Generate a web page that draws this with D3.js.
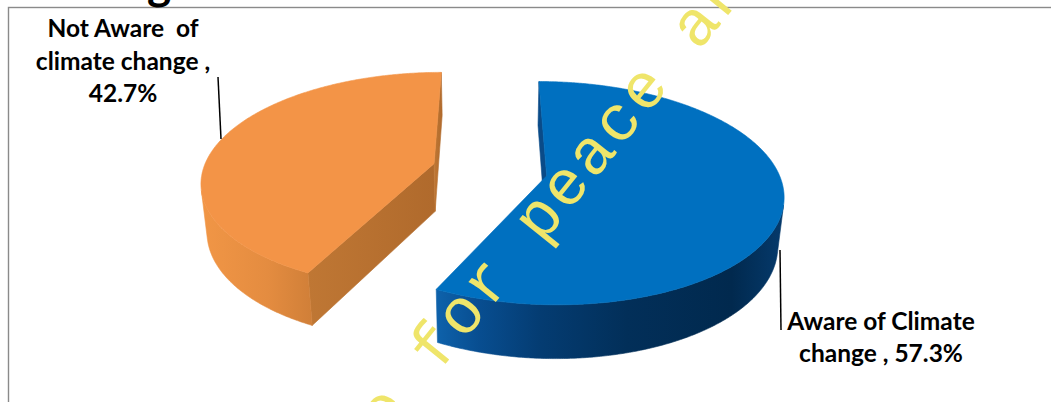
<!DOCTYPE html>
<html><head><meta charset="utf-8">
<script src="https://cdn.jsdelivr.net/npm/d3@7"></script>
<style>body{margin:0;background:#fff}svg{display:block}</style>
</head><body>
<svg id="chart" width="1051" height="402"></svg>
<script>
// ---- data ----
const categories = ["Aware of Climate change", "Not Aware  of climate change"];
const values = [57.3, 42.7];
const labelLines = [["Aware of Climate", "change , 57.3%"], ["Not Aware  of", "climate change ,", "42.7%"]];
const titleText = "Awareness of climate change";
const watermarkText = "centre for peace and development";

// ---- style / layout ----
const W = 1051, H = 402;
const topColors = ["#0070C0", "#F39447"];
const wallStops = [
  [[0, "#0e62ab"], [0.12, "#084e91"], [0.3, "#043c72"], [0.55, "#022f59"], [0.85, "#01294e"], [1, "#053a6c"]],
  [[0, "#f19646"], [0.6, "#e48c40"], [1, "#d07f38"]]
];
const cutColors = [["#0a4b88", "#0a4b88"], ["#bf7734", "#b06a2c"]];
const cam = {F: 1303.8, Dc: 5.7646, phi: 0.5185, px: 488.88, py: 217.69, Xoff: -0.0043};
const explode = 0.2504, thick = 0.2393;

const svg = d3.select("#chart");
const defs = svg.append("defs");

// chart area border
svg.append("rect").attr("x", 8.5).attr("y", 7.5).attr("width", W + 20).attr("height", H + 20)
  .attr("fill", "#fff").attr("stroke", "#8a8a8a").attr("stroke-width", 1.4);

// title (mostly cut off at the top edge)
const title = svg.append("text").attr("y", -1).attr("font-family", "Lato, sans-serif")
  .attr("font-weight", 700).attr("font-size", 46).attr("fill", "#000").text(titleText);
{
  const gi = titleText.indexOf("g");
  const node = title.node();
  const before = node.getSubStringLength(0, gi);
  const gw = node.getSubStringLength(gi, 1);
  title.attr("x", 159 - before - gw / 2);
}

// ---- 3D projection ----
const cph = Math.cos(cam.phi), sph = Math.sin(cam.phi);
const camPos = [cam.Xoff, cam.Dc * sph, cam.Dc * cph];
function project(X, Y, Z) {
  const u = X - cam.Xoff, v = Y * cph - Z * sph, w = cam.Dc - (Y * sph + Z * cph);
  return [cam.px + cam.F * u / w, cam.py - cam.F * v / w];
}
const pie = d3.pie().sort(null).value(d => d).startAngle(0).endAngle(2 * Math.PI);
const arcs = pie(values);

function sliceGeom(a) {
  const m = (a.startAngle + a.endAngle) / 2;
  const cx = explode * Math.sin(m), cz = -explode * Math.cos(m);
  const rim = (t, y) => project(cx + Math.sin(t), y, cz - Math.cos(t));
  const apex = y => project(cx, y, cz);
  const vis = (n, p) => n[0] * (camPos[0] - p[0]) + n[1] * (camPos[1] - p[1]) + n[2] * (camPos[2] - p[2]) > 0;
  return {m, cx, cz, rim, apex, vis};
}
const line = d3.line();

// draw far slice first (orange), then blue
const order = [1, 0];
order.forEach(i => {
  const a = arcs[i];
  const g = sliceGeom(a);
  const grp = svg.append("g");
  const a0 = a.startAngle, a1 = a.endAngle;
  const N = Math.ceil((a1 - a0) / (0.5 * Math.PI / 180));
  const ts = d3.range(N + 1).map(k => a0 + (a1 - a0) * k / N);

  // cut faces
  [[a0, -1], [a1, 1]].forEach(([t, s], j) => {
    const n = [s * Math.cos(t), 0, s * Math.sin(t)];
    const p = [g.cx + 0.5 * Math.sin(t), thick / 2, g.cz - 0.5 * Math.cos(t)];
    if (!g.vis(n, p)) return;
    const pts = [g.apex(thick), g.rim(t, thick), g.rim(t, 0), g.apex(0)];
    const xs = pts.map(q => q[0]);
    const id = "cut" + i + "_" + j;
    const lg = defs.append("linearGradient").attr("id", id).attr("gradientUnits", "userSpaceOnUse")
      .attr("x1", d3.min(xs)).attr("x2", d3.max(xs)).attr("y1", 0).attr("y2", 0);
    lg.append("stop").attr("offset", 0).attr("stop-color", cutColors[i][0]);
    lg.append("stop").attr("offset", 1).attr("stop-color", cutColors[i][1]);
    grp.append("path").attr("d", line(pts) + "Z").attr("fill", `url(#${id})`)
      .attr("stroke", `url(#${id})`).attr("stroke-width", 0.6).attr("stroke-linejoin", "round");
  });

  // outer wall: visible runs
  const visT = ts.map(t => g.vis([Math.sin(t), 0, -Math.cos(t)], [g.cx + Math.sin(t), thick / 2, g.cz - Math.cos(t)]));
  let runs = [], cur = null;
  ts.forEach((t, k) => { if (visT[k]) { if (!cur) { cur = []; runs.push(cur); } cur.push(t); } else cur = null; });
  runs.forEach((run, r) => {
    const top = run.map(t => g.rim(t, thick)), bot = run.map(t => g.rim(t, 0)).reverse();
    const pts = top.concat(bot);
    const xs = pts.map(q => q[0]);
    const id = "wall" + i + "_" + r;
    const lg = defs.append("linearGradient").attr("id", id).attr("gradientUnits", "userSpaceOnUse")
      .attr("x1", d3.min(xs)).attr("x2", d3.max(xs)).attr("y1", 0).attr("y2", 0);
    wallStops[i].forEach(([o, c]) => lg.append("stop").attr("offset", o).attr("stop-color", c));
    grp.append("path").attr("d", line(pts) + "Z").attr("fill", `url(#${id})`)
      .attr("stroke", `url(#${id})`).attr("stroke-width", 0.6);
  });

  // top face
  const topPts = [g.apex(thick)].concat(ts.map(t => g.rim(t, thick)));
  grp.append("path").attr("d", line(topPts) + "Z").attr("fill", topColors[i])
    .attr("stroke", topColors[i]).attr("stroke-width", 0.6).attr("stroke-linejoin", "round");
});

// ---- labels ----
const lbl = svg.append("g").attr("font-family", "Lato, sans-serif").attr("font-weight", 700)
  .attr("font-size", 24.5).attr("fill", "#000").attr("text-anchor", "middle");
const labelPos = [{x: 881, y0: 330, dy: 32}, {x: 123, y0: 37, dy: 32.5}];
labelLines.forEach((lines, i) => {
  lines.forEach((s, k) => lbl.append("text").attr("x", labelPos[i].x).attr("y", labelPos[i].y0 + k * labelPos[i].dy)
    .attr("xml:space", "preserve").style("white-space", "pre").text(s));
});
const leaders = [[[780, 250], [781, 330]], [[218, 77], [221, 139]]];
leaders.forEach(l => svg.append("path").attr("d", line(l)).attr("stroke", "#000").attr("stroke-width", 1.5).attr("fill", "none"));

// ---- watermark ----
const fs = 64, pitch = 41.4, ls = pitch - 0.6 * fs;
svg.append("g").attr("transform", "translate(463,316) rotate(-51)")
  .append("text").attr("x", -(8 * pitch + 0.3 * fs)).attr("y", 0.26 * fs)
  .attr("font-family", "'Liberation Mono', 'Courier New', monospace").attr("font-size", fs)
  .attr("letter-spacing", ls)
  .attr("fill", "#EFE56A").attr("xml:space", "preserve").style("white-space", "pre").text(watermarkText);
</script>
</body></html>
